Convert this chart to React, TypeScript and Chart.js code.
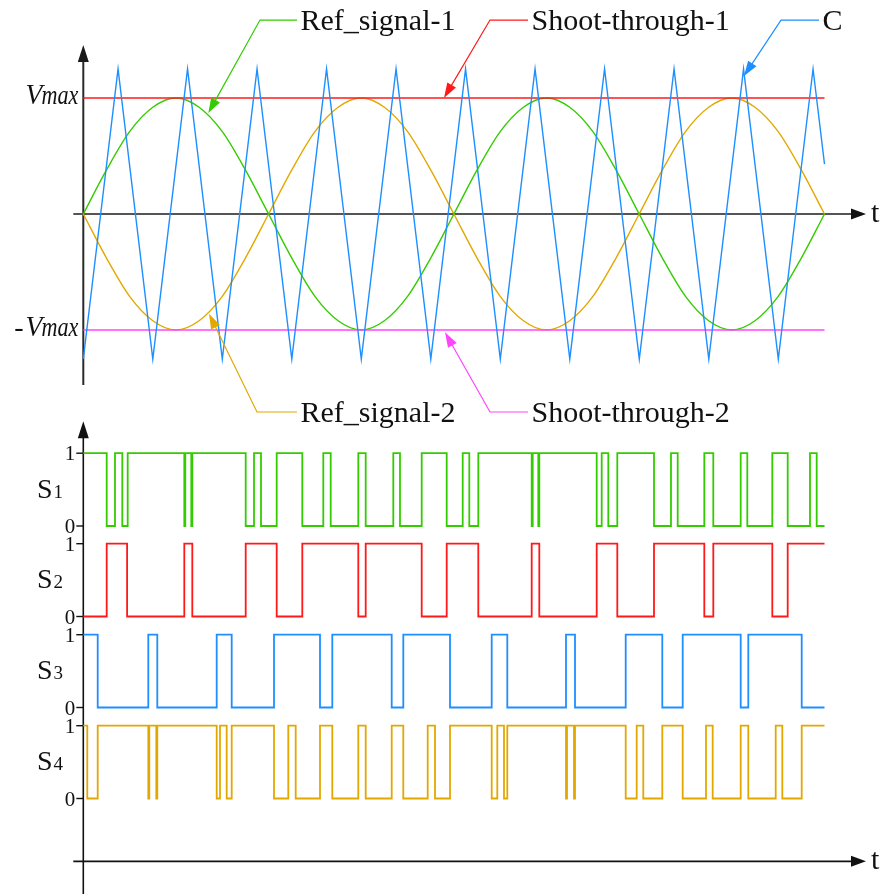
import React, { useEffect, useRef } from 'react';
import { Chart, registerables } from 'chart.js';

Chart.register(...registerables);

// ---------- DATA (time in arbitrary units: 0 .. 741.2 = two fundamental periods) ----------
const T_END = 741.2;

const refTime = [0, 23.2, 46.3, 69.5, 92.6, 115.8, 139.0, 162.1, 185.3, 208.5, 231.6, 254.8, 277.9, 301.1, 324.3, 347.4, 370.6,
  393.8, 416.9, 440.1, 463.3, 486.4, 509.6, 532.7, 555.9, 579.1, 602.2, 625.4, 648.5, 671.7, 694.9, 718.0, 741.2];
const refSignal1 = [0, 0.38, 0.71, 0.92, 1, 0.92, 0.71, 0.38, 0, -0.38, -0.71, -0.92, -1, -0.92, -0.71, -0.38, 0,
  0.38, 0.71, 0.92, 1, 0.92, 0.71, 0.38, 0, -0.38, -0.71, -0.92, -1, -0.92, -0.71, -0.38, 0];
const refSignal2 = [0, -0.38, -0.71, -0.92, -1, -0.92, -0.71, -0.38, 0, 0.38, 0.71, 0.92, 1, 0.92, 0.71, 0.38, 0,
  -0.38, -0.71, -0.92, -1, -0.92, -0.71, -0.38, 0, 0.38, 0.71, 0.92, 1, 0.92, 0.71, 0.38, 0];

const carrierTime = [0, 34.75, 69.5, 104.25, 139, 173.75, 208.5, 243.25, 278, 312.75, 347.5, 382.25, 417, 451.75,
  486.5, 521.25, 556, 590.75, 625.5, 660.25, 695, 729.75, 741.2];
const carrierValue = [-1.25, 1.25, -1.25, 1.25, -1.25, 1.25, -1.25, 1.25, -1.25, 1.25, -1.25, 1.25, -1.25, 1.25,
  -1.25, 1.25, -1.25, 1.25, -1.25, 1.25, -1.25, 1.25, 0.43];

const shootTime = [0, 741.2];
const shootThrough1 = [1, 1];
const shootThrough2 = [-1, -1];

// switching signals: initial level + times of each level change
const s1Start = 1;
const s1Edges = [23.4, 31.7, 39.0, 44.4, 101.0, 102.0, 108.0, 109.0, 162.4, 170.7, 177.7, 193.4, 219.0, 240.0, 247.4,
  275.0, 282.4, 310.0, 316.7, 338.4, 363.4, 379.4, 386.0, 395.0, 448.4, 449.4, 455.0, 456.0, 513.4, 518.4, 525.0,
  534.0, 570.7, 587.7, 594.4, 621.0, 630.0, 657.4, 664.0, 689.0, 704.4, 726.7, 733.4];
const s2Start = 0;
const s2Edges = [23.4, 43.8, 101.0, 109.0, 162.4, 193.4, 219.0, 275.0, 282.4, 338.4, 363.4, 395.0, 448.4, 456.0,
  513.4, 534.0, 570.7, 621.0, 630.0, 689.0, 704.4];
const s3Start = 1;
const s3Edges = [14.4, 65.0, 74.0, 133.4, 148.4, 190.7, 236.7, 249.0, 308.4, 320.0, 366.7, 408.4, 424.0, 482.7,
  491.7, 542.4, 579.0, 599.4, 657.4, 665.0, 718.4];
const s4Start = 1;
const s4Edges = [4.0, 14.4, 65.0, 66.0, 73.0, 74.0, 133.4, 136.7, 143.4, 148.4, 190.7, 205.0, 212.4, 236.7, 249.0,
  275.0, 282.4, 308.4, 320.0, 344.4, 351.7, 366.7, 408.4, 414.0, 420.7, 424.0, 482.7, 483.7, 490.7, 491.7, 542.4,
  553.4, 560.0, 579.0, 599.4, 622.7, 629.4, 657.4, 665.0, 692.4, 699.0, 718.4];

const logicTicks = ['0', '1'];

// ---------- LAYOUT ----------
const W = 883;
const H = 894;
const X_ORIGIN_PX = 83.3;
const FONT = '"Liberation Serif", "Times New Roman", serif';

const C_GREEN = '#33cc00';
const C_RED = '#ff1a1a';
const C_BLUE = '#1e8fff';
const C_ORANGE = '#e3a800';
const C_MAGENTA = '#ff44ff';

function rangeFor(zeroPx: number, unitPx: number) {
  return { min: -(H - zeroPx) / unitPx, max: zeroPx / unitPx };
}

const V_SCALE = rangeFor(214, 116);
const LOGIC_UNIT = 72.8;
const LOGIC_ZEROS = [526, 616.5, 707.5, 798.5];

const annotations = [
  { text: 'Ref_signal-1', color: C_GREEN, tip: [125, 0.87], elbow: [176.7, 1.672], end: 213.7, axis: 'yV' },
  { text: 'Shoot-through-1', color: C_RED, tip: [360.7, 1.0], elbow: [406.7, 1.672], end: 444.7, axis: 'yV' },
  { text: 'C', color: C_BLUE, tip: [660.7, 1.19], elbow: [697.7, 1.672], end: 735.7, axis: 'yV' },
  { text: 'Ref_signal-2', color: C_ORANGE, tip: [125.7, -0.86], elbow: [173.7, -1.707], end: 213.7, axis: 'yV' },
  { text: 'Shoot-through-2', color: C_MAGENTA, tip: [361.7, -1.02], elbow: [406.7, -1.707], end: 444.7, axis: 'yV' },
];

function pts(xs: number[], ys: number[]) {
  return xs.map((x, i) => ({ x, y: ys[i] }));
}

function steps(start: number, edges: number[]) {
  const out = [{ x: 0, y: start }];
  let lvl = start;
  edges.forEach((e) => {
    lvl = 1 - lvl;
    out.push({ x: e, y: lvl });
  });
  out.push({ x: T_END, y: lvl });
  return out;
}

function arrowHead(ctx: CanvasRenderingContext2D, tx: number, ty: number, fx: number, fy: number, len: number, half: number, color: string) {
  const a = Math.atan2(ty - fy, tx - fx);
  const bx = tx - len * Math.cos(a);
  const by = ty - len * Math.sin(a);
  const nx = -Math.sin(a) * half;
  const ny = Math.cos(a) * half;
  ctx.beginPath();
  ctx.moveTo(tx, ty);
  ctx.lineTo(bx + nx, by + ny);
  ctx.lineTo(bx - nx, by - ny);
  ctx.closePath();
  ctx.fillStyle = color;
  ctx.fill();
}

function scaledText(ctx: CanvasRenderingContext2D, text: string, x: number, y: number, sx: number) {
  ctx.save();
  ctx.translate(x, y);
  ctx.scale(sx, 1);
  ctx.fillText(text, 0, 0);
  ctx.restore();
}

const overlay = {
  id: 'overlay',
  beforeDatasetsDraw(chart: any) {
    const ctx: CanvasRenderingContext2D = chart.ctx;
    const xs = chart.scales.x;
    const yV = chart.scales.yV;
    const x0 = xs.getPixelForValue(0);
    const xLeft = xs.getPixelForValue(-10);
    const xTip = xs.getPixelForValue(782.7);
    ctx.save();
    // ---- top panel axes ----
    const topTip = yV.getPixelForValue(1.457);
    const topBot = yV.getPixelForValue(-1.474);
    ctx.strokeStyle = '#2a2a2a';
    ctx.lineWidth = 2;
    ctx.beginPath();
    ctx.moveTo(x0, topTip + 12);
    ctx.lineTo(x0, topBot);
    ctx.stroke();
    arrowHead(ctx, x0, topTip, x0, topTip + 20, 17, 5.5, '#1a1a1a');
    const yZero = yV.getPixelForValue(0);
    ctx.strokeStyle = '#555';
    ctx.lineWidth = 2;
    ctx.beginPath();
    ctx.moveTo(xLeft, yZero);
    ctx.lineTo(xTip - 10, yZero);
    ctx.stroke();
    arrowHead(ctx, xTip, yZero, xTip - 20, yZero, 15, 5.5, '#111');
    // ---- bottom panel axes ----
    const yS1 = chart.scales.yS1;
    const yS4 = chart.scales.yS4;
    const bTip = yS1.getPixelForValue(1.44);
    ctx.strokeStyle = '#111';
    ctx.lineWidth = 1.6;
    ctx.beginPath();
    ctx.moveTo(x0, bTip + 12);
    ctx.lineTo(x0, chart.height);
    ctx.stroke();
    arrowHead(ctx, x0, bTip, x0, bTip + 20, 17, 5.5, '#111');
    const yb = yS4.getPixelForValue(-0.863);
    ctx.beginPath();
    ctx.moveTo(xLeft, yb);
    ctx.lineTo(xTip - 10, yb);
    ctx.stroke();
    arrowHead(ctx, xTip, yb, xTip - 20, yb, 15, 5.5, '#111');
    // t labels
    ctx.fillStyle = '#111';
    ctx.font = `30px ${FONT}`;
    ctx.textAlign = 'left';
    ctx.textBaseline = 'alphabetic';
    ctx.fillText('t', xTip + 5, yZero + 8);
    ctx.fillText('t', xTip + 5, yb + 8);
    // logic ticks and labels
    ['yS1', 'yS2', 'yS3', 'yS4'].forEach((id, i) => {
      const sc = chart.scales[id];
      logicTicks.forEach((lbl, lv) => {
        const y = sc.getPixelForValue(lv);
        ctx.strokeStyle = '#111';
        ctx.lineWidth = 1.4;
        ctx.beginPath();
        ctx.moveTo(x0 - 7, y);
        ctx.lineTo(x0, y);
        ctx.stroke();
        ctx.font = `21px ${FONT}`;
        ctx.textAlign = 'right';
        ctx.fillText(lbl, x0 - 8, y + 7);
      });
      const mid = (sc.getPixelForValue(0) + sc.getPixelForValue(1)) / 2;
      ctx.textAlign = 'left';
      ctx.font = `28px ${FONT}`;
      ctx.fillText('S', 37, mid + 8);
      const sw = ctx.measureText('S').width;
      ctx.font = `19px ${FONT}`;
      ctx.fillText(String(i + 1), 37 + sw + 1, mid + 8);
    });
    // Vmax labels
    const drawV = (y: number, neg: boolean) => {
      ctx.textAlign = 'left';
      const sxMax = 0.82;
      const sxV = 0.92;
      ctx.font = `italic 27px ${FONT}`;
      const wm = ctx.measureText('max').width * sxMax;
      ctx.font = `italic 30px ${FONT}`;
      const wv = ctx.measureText('V').width * sxV;
      const right = x0 - 5;
      const base = y + 5.5;
      scaledText(ctx, 'V', right - wm - wv + 1, base, sxV);
      if (neg) {
        ctx.font = `28px ${FONT}`;
        const wd = ctx.measureText('-').width;
        ctx.fillText('-', right - wm - wv - wd - 1, base);
      }
      ctx.font = `italic 27px ${FONT}`;
      scaledText(ctx, 'max', right - wm, base, sxMax);
    };
    drawV(yV.getPixelForValue(1), false);
    drawV(yV.getPixelForValue(-1), true);
    ctx.restore();
  },
  afterDatasetsDraw(chart: any) {
    const ctx: CanvasRenderingContext2D = chart.ctx;
    const xs = chart.scales.x;
    ctx.save();
    annotations.forEach((a) => {
      const ys = chart.scales[a.axis];
      const tx = xs.getPixelForValue(a.tip[0]);
      const ty = ys.getPixelForValue(a.tip[1]);
      const ex = xs.getPixelForValue(a.elbow[0]);
      const ey = ys.getPixelForValue(a.elbow[1]);
      const lx = xs.getPixelForValue(a.end);
      ctx.strokeStyle = a.color;
      ctx.lineWidth = 1.2;
      ctx.beginPath();
      ctx.moveTo(lx, ey);
      ctx.lineTo(ex, ey);
      const a2 = Math.atan2(ty - ey, tx - ex);
      ctx.lineTo(tx - 10 * Math.cos(a2), ty - 10 * Math.sin(a2));
      ctx.stroke();
      arrowHead(ctx, tx, ty, ex, ey, 15, 5, a.color);
      ctx.fillStyle = '#111';
      ctx.font = `30px ${FONT}`;
      ctx.textAlign = 'left';
      ctx.textBaseline = 'alphabetic';
      ctx.fillText(a.text, lx + 3.5, ey + 10);
    });
    ctx.restore();
  },
};

export default function App() {
  const ref = useRef<HTMLCanvasElement>(null);
  useEffect(() => {
    const logicScale = (i: number) => ({ type: 'linear', display: false, ...rangeFor(LOGIC_ZEROS[i], LOGIC_UNIT) });
    const chart = new Chart(ref.current as HTMLCanvasElement, {
      type: 'line',
      data: {
        datasets: [
          { label: 'C', data: pts(carrierTime, carrierValue), borderColor: C_BLUE, borderWidth: 1.4, yAxisID: 'yV' },
          { label: 'Shoot-through-1', data: pts(shootTime, shootThrough1), borderColor: C_RED, borderWidth: 1.4, yAxisID: 'yV' },
          { label: 'Shoot-through-2', data: pts(shootTime, shootThrough2), borderColor: C_MAGENTA, borderWidth: 1.4, yAxisID: 'yV' },
          { label: 'Ref_signal-1', data: pts(refTime, refSignal1), borderColor: C_GREEN, borderWidth: 1.4, yAxisID: 'yV', cubicInterpolationMode: 'monotone' },
          { label: 'Ref_signal-2', data: pts(refTime, refSignal2), borderColor: C_ORANGE, borderWidth: 1.4, yAxisID: 'yV', cubicInterpolationMode: 'monotone' },
          { label: 'S1', data: steps(s1Start, s1Edges), borderColor: C_GREEN, borderWidth: 1.8, yAxisID: 'yS1', stepped: 'before' },
          { label: 'S2', data: steps(s2Start, s2Edges), borderColor: C_RED, borderWidth: 1.8, yAxisID: 'yS2', stepped: 'before' },
          { label: 'S3', data: steps(s3Start, s3Edges), borderColor: C_BLUE, borderWidth: 1.8, yAxisID: 'yS3', stepped: 'before' },
          { label: 'S4', data: steps(s4Start, s4Edges), borderColor: C_ORANGE, borderWidth: 1.8, yAxisID: 'yS4', stepped: 'before' },
        ] as any,
      },
      options: {
        animation: false,
        responsive: false,
        devicePixelRatio: 1,
        layout: { padding: 0 },
        elements: { point: { radius: 0 }, line: { fill: false } },
        plugins: { legend: { display: false }, tooltip: { enabled: false } },
        events: [],
        scales: {
          x: { type: 'linear', display: false, min: -X_ORIGIN_PX, max: W - X_ORIGIN_PX },
          yV: { type: 'linear', display: false, min: V_SCALE.min, max: V_SCALE.max },
          yS1: logicScale(0),
          yS2: logicScale(1),
          yS3: logicScale(2),
          yS4: logicScale(3),
        } as any,
      },
      plugins: [overlay],
    });
    return () => chart.destroy();
  }, []);
  return (
    <div style={{ position: 'fixed', left: 0, top: 0, width: W, height: H, background: '#fff' }}>
      <canvas ref={ref} width={W} height={H} style={{ width: W, height: H, display: 'block' }} />
    </div>
  );
}
